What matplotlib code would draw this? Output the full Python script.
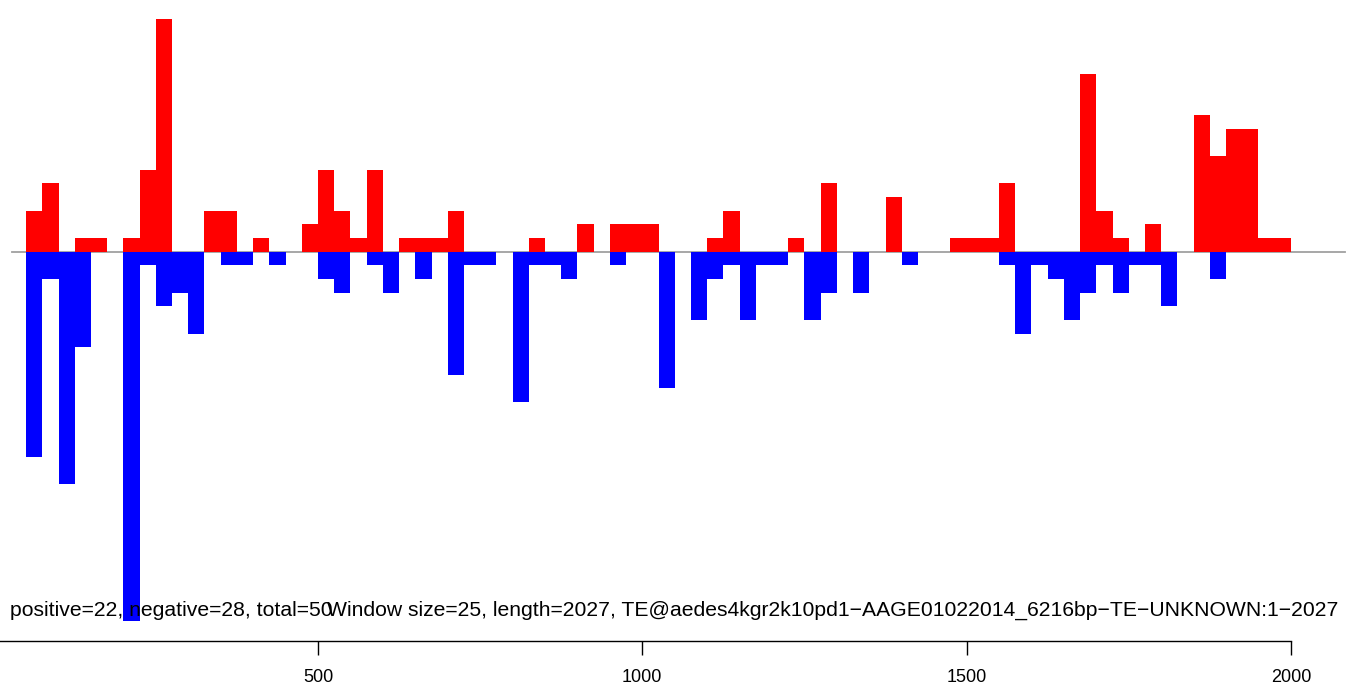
import matplotlib
matplotlib.use("Agg")
import matplotlib.pyplot as plt
import numpy as np

plt.rcParams['font.family'] = ['Liberation Sans', 'DejaVu Sans']

# window counts, one value per 25 bp window starting at 0
window = 25
seq_length = 2027
pos_counts = [0, 0, 3, 5, 0, 1, 1, 0, 1, 6,
              17, 0, 0, 3, 3, 0, 1, 0, 0, 2,
              6, 3, 1, 6, 0, 1, 1, 1, 3, 0,
              0, 0, 0, 1, 0, 0, 2, 0, 2, 2,
              2, 0, 0, 0, 1, 3, 0, 0, 0, 1,
              0, 5, 0, 0, 0, 4, 0, 0, 0, 1,
              1, 1, 5, 0, 0, 0, 0, 13, 3, 1,
              0, 2, 0, 0, 10, 7, 9, 9, 1, 1]
neg_counts = [0, 0, 15, 2, 17, 7, 0, 0, 27, 1,
              4, 3, 6, 0, 1, 1, 0, 1, 0, 0,
              2, 3, 0, 1, 3, 0, 2, 0, 9, 1,
              1, 0, 11, 1, 1, 2, 0, 0, 1, 0,
              0, 10, 0, 5, 2, 1, 5, 1, 1, 0,
              5, 3, 0, 3, 0, 0, 1, 0, 0, 0,
              0, 0, 1, 6, 1, 2, 5, 3, 1, 3,
              1, 1, 4, 0, 0, 2, 0, 0, 0, 0]
n_positive = 22
n_negative = 28
te_name = "TE@aedes4kgr2k10pd1\u2212AAGE01022014_6216bp\u2212TE\u2212UNKNOWN:1\u22122027"
xticks = [0, 500, 1000, 1500, 2000]

W, H = 1357, 690
fig = plt.figure(figsize=(W / 100, H / 100), dpi=100)
ax = fig.add_axes([-6.3 / W, 0, (W + 6.3) / W, 1])
ax.set_xlim(0, (W + 6.3) / 0.6486)
ax.set_ylim(-(H - 251.7) / 13.67, 251.7 / 13.67)

starts = np.arange(len(pos_counts)) * window
ax.plot([28, 2083], [0, 0], color='#a0a0a0', lw=1.3, zorder=1)
ax.bar(starts, pos_counts, width=window, align='edge', color='#ff0000', linewidth=0, zorder=2)
ax.bar(starts, -np.array(neg_counts), width=window, align='edge', color='#0000ff', linewidth=0, zorder=2)

for s in ['top', 'left', 'right']:
    ax.spines[s].set_visible(False)
ax.spines['bottom'].set_position(('data', -(641 - 251.7) / 13.67))
ax.spines['bottom'].set_bounds(0, 2000)
ax.spines['bottom'].set_linewidth(1.0)
ax.set_xticks(xticks)
ax.set_xticklabels([str(t) for t in xticks])
ax.tick_params(axis='x', length=10, width=1.0, pad=10, labelsize=13)
ax.set_yticks([])

fig.text(10 / W, 1 - 610 / H,
         f"positive={n_positive}, negative={n_negative}, total={n_positive + n_negative}",
         ha='left', va='center', fontsize=15.2, zorder=5)
fig.text(1338 / W, 1 - 610 / H,
         f"Window size={window}, length={seq_length}, {te_name}",
         ha='right', va='center', fontsize=15.2, zorder=5)

fig.savefig('out.png', dpi=100)
